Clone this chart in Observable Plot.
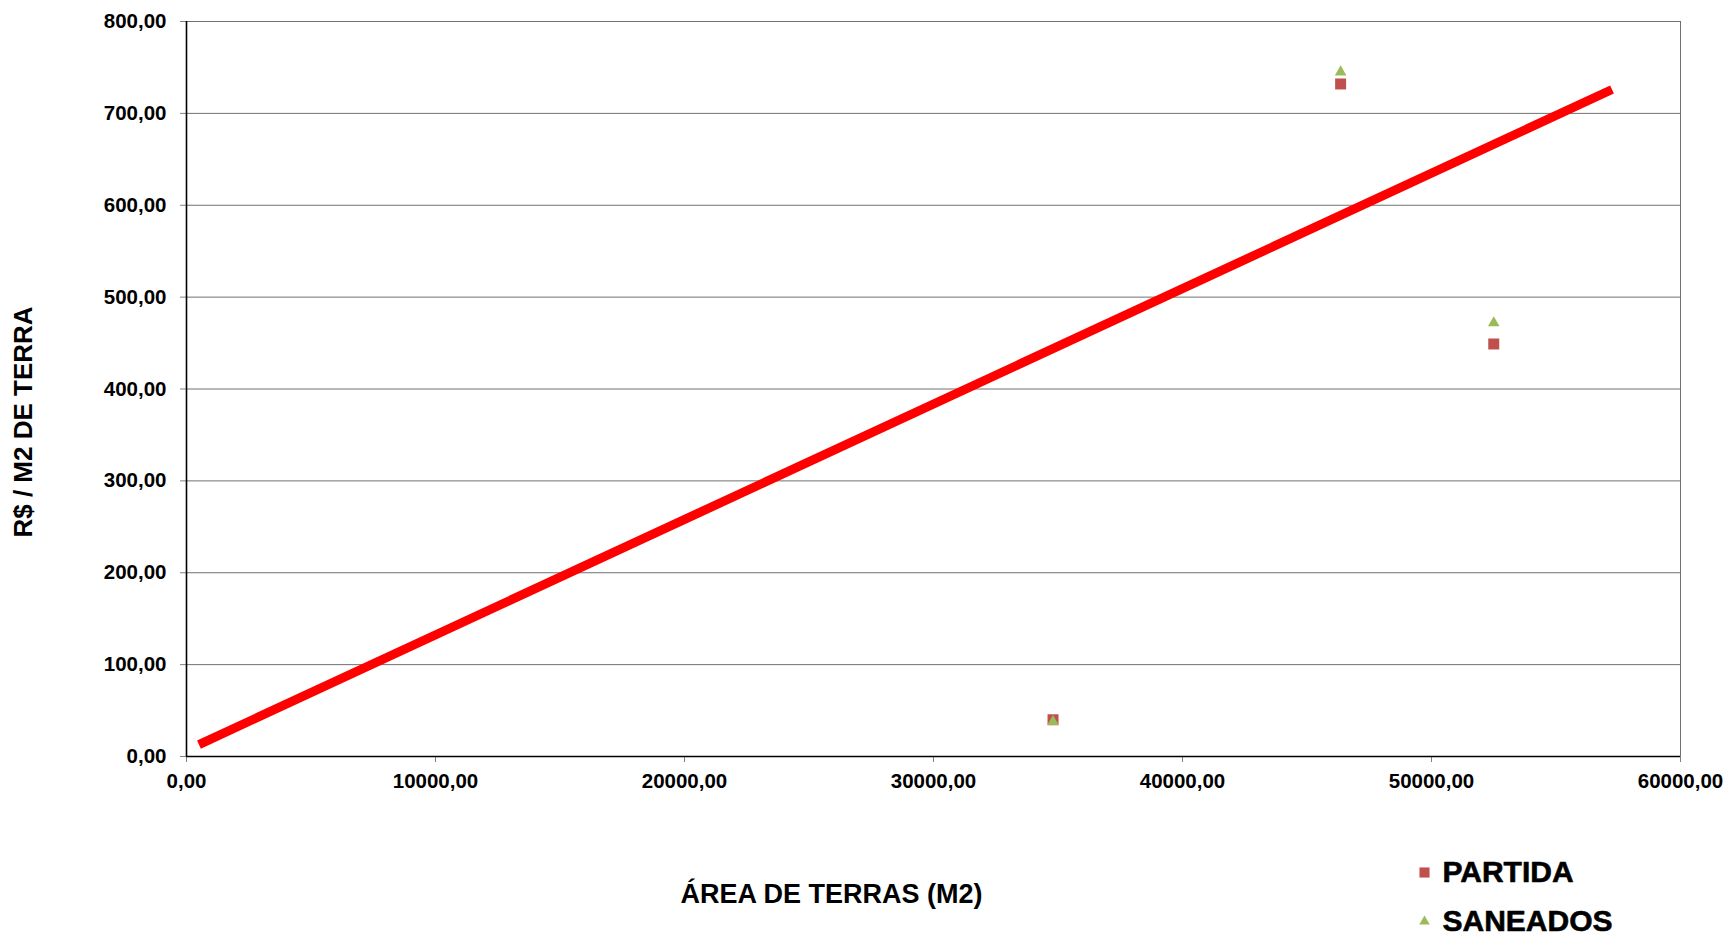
<!DOCTYPE html>
<html>
<head>
<meta charset="utf-8">
<script src="https://cdn.jsdelivr.net/npm/d3@7"></script>
<script src="https://cdn.jsdelivr.net/npm/@observablehq/plot@0.6"></script>
<style>
  html, body { margin: 0; padding: 0; background: #fff; }
  #chart { width: 1730px; height: 937px; }
</style>
</head>
<body>
<div id="chart"></div>
<script>
// ---- data ----
const areas = [34800, 46350, 52500];          // ÁREA DE TERRAS (M2)
const partida = [40, 732, 449];                // R$ / M2 DE TERRA
const saneados = [38, 745, 472];
const trendArea = [500, 57250];                // red trend line ends
const trendValue = [13, 726];
const xTicks = [0, 10000, 20000, 30000, 40000, 50000, 60000];
const yTicks = [0, 100, 200, 300, 400, 500, 600, 700, 800];
const seriesNames = ["PARTIDA", "SANEADOS"];
const xTitle = "ÁREA DE TERRAS (M2)";
const yTitle = "R$ / M2 DE TERRA";

const partidaData = areas.map((a, i) => ({x: a, y: partida[i]}));
const saneadosData = areas.map((a, i) => ({x: a, y: saneados[i]}));
const trendData = trendArea.map((a, i) => ({x: a, y: trendValue[i]}));

const fmt = d => d.toFixed(2).replace(".", ",");
const red = "#C0504D", green = "#9BBB59";
const font = "'Liberation Sans', Arial, Helvetica, sans-serif";

const chart = Plot.plot({
  width: 1730,
  height: 937,
  marginLeft: 186,
  marginRight: 50,
  marginTop: 21,
  marginBottom: 181,
  style: {fontFamily: font, background: "#fff", overflow: "visible"},
  x: {domain: [0, 60000]},
  y: {domain: [0, 800]},
  marks: [
    Plot.ruleY(yTicks.filter(d => d > 0), {stroke: "#707070", strokeWidth: 1}),
    Plot.ruleX([60000], {stroke: "#707070", strokeWidth: 1}),
    Plot.axisY(yTicks, {tickSize: 6, tickPadding: 14, tickFormat: fmt, fontSize: 20.5, fontWeight: "bold", stroke: "#808080", fill: "#000", label: null}),
    Plot.axisX(xTicks, {tickSize: 6, tickPadding: 11, tickFormat: fmt, fontSize: 20.5, fontWeight: "bold", stroke: "#808080", fill: "#000", label: null}),
    Plot.ruleY([0], {stroke: "#000", strokeWidth: 1.6}),
    Plot.ruleX([0], {stroke: "#000", strokeWidth: 1.6}),
    Plot.line(trendData, {x: "x", y: "y", stroke: "#FF0000", strokeWidth: 9, strokeLinecap: "butt"}),
    Plot.dot(partidaData, {x: "x", y: "y", symbol: "square", r: 6.2, fill: red, stroke: null}),
    Plot.dot(saneadosData, {x: "x", y: "y", symbol: "triangle", r: 4.3, fill: green, stroke: null}),
    // axis titles
    Plot.text([xTitle], {text: d => d, frameAnchor: "bottom", dx: -102, dy: 138, textAnchor: "middle", fontSize: 27, fontWeight: "bold", fill: "#000", lineAnchor: "middle"}),
    Plot.text([yTitle], {text: d => d, frameAnchor: "left", dx: -163, dy: 33, rotate: -90, textAnchor: "middle", fontSize: 26, fontWeight: "bold", fill: "#000", lineAnchor: "middle"}),
    // legend
    Plot.dot([seriesNames[0]], {frameAnchor: "bottom-right", dx: -256, dy: 116, symbol: "square", r: 5.7, fill: red}),
    Plot.dot([seriesNames[1]], {frameAnchor: "bottom-right", dx: -256, dy: 165, symbol: "triangle", r: 3.9, fill: green}),
    Plot.text([seriesNames[0]], {text: d => d, frameAnchor: "bottom-right", dx: -238, dy: 116, textAnchor: "start", lineAnchor: "middle", fontSize: 30, fontWeight: "bold", fill: "#000", stroke: "#000", strokeWidth: 0.6}),
    Plot.text([seriesNames[1]], {text: d => d, frameAnchor: "bottom-right", dx: -238, dy: 165, textAnchor: "start", lineAnchor: "middle", fontSize: 30, fontWeight: "bold", fill: "#000", stroke: "#000", strokeWidth: 0.6})
  ]
});
document.getElementById("chart").appendChild(chart);
</script>
</body>
</html>
